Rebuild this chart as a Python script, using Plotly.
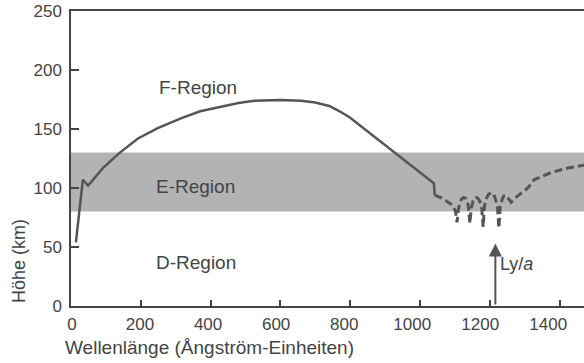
import plotly.graph_objects as go

# Solid part of the curve (wavelength in Å, height in km)
solid_x = [14, 34, 49, 92, 140, 192, 250, 315, 370, 430, 480, 525, 600, 659, 700, 740, 770, 800, 1040, 1042]
solid_y = [54, 107, 102, 117, 130, 142, 151, 159, 165, 169, 172, 174, 174.5, 174, 172.5, 169.5, 165, 159.5, 104, 94]

# Dashed part of the curve
dash_x = [1042, 1063, 1095, 1102, 1106, 1110, 1115, 1120, 1126, 1132, 1138, 1143, 1147, 1152, 1156, 1160,
          1165, 1171, 1177, 1181, 1185, 1190, 1196, 1203, 1210, 1216, 1222, 1226, 1230, 1236, 1241, 1246,
          1261, 1275, 1309, 1327, 1375, 1424, 1473]
dash_y = [94, 91.5, 85, 80, 71, 82, 88, 91, 92, 91, 86, 70, 83, 89, 91, 92,
          91.5, 89, 83, 67, 85, 91, 94.5, 96, 95, 91, 84, 66, 84, 91, 93.5, 94,
          88, 92, 100, 107, 113, 117, 119.5]

# E-region band
band_low, band_high = 80, 130

x_ticks = [0, 200, 400, 600, 800, 1000, 1200, 1400]
x_tick_labels = ["0", "200", "400", "600", "800", "1000", "1200", "1400"]
y_ticks = [0, 50, 100, 150, 200, 250]

region_labels = ["F-Region", "E-Region", "D-Region"]
region_x = [364, 358, 358]
region_y = [185.5, 101, 37]

ly_alpha_x = 1216
ly_alpha_top = 53

FONT = "Liberation Sans, Arial, sans-serif"
TXT = "#444444"
LINE = "#555555"

fig = go.Figure()
fig.add_trace(go.Scatter(x=solid_x, y=solid_y, mode="lines",
                         line=dict(color=LINE, width=2.5), showlegend=False, hoverinfo="skip"))
fig.add_trace(go.Scatter(x=dash_x, y=dash_y, mode="lines",
                         line=dict(color=LINE, width=3, dash="8px,4px"), showlegend=False, hoverinfo="skip"))
# invisible trace to anchor the label axis (printed labels sit slightly off the tick marks)
fig.add_trace(go.Scatter(x=[x_ticks[0]], y=[y_ticks[0]], xaxis="x2", mode="markers",
                         marker=dict(opacity=0), showlegend=False, hoverinfo="skip"))

fig.add_shape(type="rect", xref="paper", yref="y", x0=0, x1=1, y0=band_low, y1=band_high,
              fillcolor="#b3b3b3", line=dict(width=0), layer="below")

for t, xx, yy in zip(region_labels, region_x, region_y):
    fig.add_annotation(x=xx, y=yy, text=t, showarrow=False,
                       font=dict(family=FONT, size=19, color=TXT))

# Ly alpha arrow
fig.add_annotation(x=ly_alpha_x, y=ly_alpha_top, ax=ly_alpha_x, ay=0, axref="x", ayref="y",
                   xref="x", yref="y", text="", showarrow=True, arrowhead=2, arrowsize=1.3,
                   arrowwidth=2, arrowcolor=LINE)
fig.add_annotation(x=ly_alpha_x + 8, y=36, text="Ly/<i>a</i>", showarrow=False, xanchor="left",
                   font=dict(family=FONT, size=18, color=TXT))

# axis titles
fig.add_annotation(xref="paper", yref="paper", x=-0.016, y=-0.142, xanchor="left", yanchor="middle",
                   text="Wellenlänge (Ångström-Einheiten)", showarrow=False,
                   font=dict(family=FONT, size=19, color=TXT))
fig.add_annotation(xref="paper", yref="paper", x=-0.101, y=0.153, textangle=-90,
                   xanchor="center", yanchor="middle",
                   text="Höhe (km)", showarrow=False,
                   font=dict(family=FONT, size=18, color=TXT))

fig.update_layout(
    width=584, height=363,
    margin=dict(l=71, r=0, t=11, b=57, autoexpand=False),
    plot_bgcolor="white", paper_bgcolor="white",
    showlegend=False,
    xaxis=dict(range=[0, 1470], tickvals=x_ticks, ticks="inside", ticklen=6, tickwidth=1.5,
               tickcolor="#444", showline=True, linecolor="#444", linewidth=1.5, mirror=True,
               showgrid=False, zeroline=False, showticklabels=False, automargin=False),
    xaxis2=dict(range=[-3, 1505], overlaying="x", side="bottom", anchor="y",
                tickvals=x_ticks, ticktext=x_tick_labels, ticks="", showline=False,
                showgrid=False, zeroline=False, ticklabelstandoff=6, automargin=False,
                tickfont=dict(family=FONT, size=17, color=TXT)),
    yaxis=dict(range=[0, 250], tickvals=y_ticks, ticks="inside", ticklen=8, tickwidth=1.5,
               tickcolor="#444", showline=True, linecolor="#444", linewidth=1.5,
               showgrid=False, zeroline=False, ticklabelstandoff=4, automargin=False,
               tickfont=dict(family=FONT, size=17, color=TXT)),
)

fig.write_html("out.html", config={"displayModeBar": False},
               post_script="document.body.style.margin='0';document.body.style.overflow='hidden';")
